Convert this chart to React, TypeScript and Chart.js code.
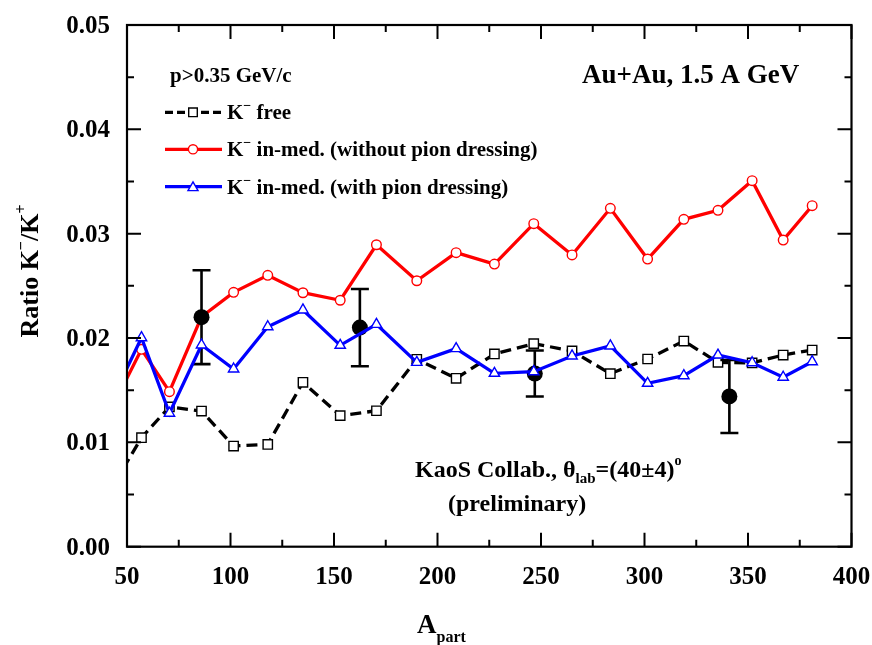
import { useEffect, useRef } from 'react';
import { Chart, registerables } from 'chart.js';

Chart.register(...registerables);

// Participant number bins shared by the three transport-model curves
const aPart = [44, 57, 70.5, 86, 101.5, 118, 135, 153, 170.5, 190, 209, 227.5, 246.5, 265, 283.5, 301.5, 319, 335.5, 352, 367, 381];

// K-/K+ ratio, free kaons
const ratioFree = [0.0061, 0.01045, 0.0134, 0.0130, 0.00965, 0.0098, 0.01576, 0.01256, 0.01303, 0.01796, 0.01614, 0.01847, 0.01946, 0.01876, 0.01658, 0.01799, 0.01971, 0.01767, 0.01761, 0.01837, 0.01885];
// K-/K+ ratio, in-medium without pion dressing
const ratioNoPion = [0.0138, 0.01892, 0.01486, 0.02204, 0.02438, 0.02601, 0.02434, 0.02362, 0.02894, 0.02549, 0.02818, 0.02709, 0.03096, 0.02796, 0.03243, 0.02757, 0.03138, 0.03224, 0.03508, 0.02939, 0.03268];
// K-/K+ ratio, in-medium with pion dressing
const ratioPion = [0.0146, 0.02003, 0.01279, 0.01933, 0.01703, 0.02108, 0.02269, 0.0193, 0.02131, 0.01767, 0.01898, 0.01662, 0.01677, 0.01828, 0.01924, 0.01566, 0.01639, 0.01837, 0.01763, 0.01624, 0.01773];

// KaoS preliminary data with symmetric errors
const kaosA = [86, 162.5, 247, 341];
const kaosRatio = [0.0220, 0.0210, 0.0166, 0.0144];
const kaosErr = [0.0045, 0.0037, 0.0022, 0.0035];

// Axis ticks
const xMajor = [50, 100, 150, 200, 250, 300, 350, 400];
const xMinor = [75, 125, 175, 225, 275, 325, 375];
const xLabels = ['50', '100', '150', '200', '250', '300', '350', '400'];
const yMajor = [0, 0.01, 0.02, 0.03, 0.04, 0.05];
const yMinor = [0.005, 0.015, 0.025, 0.035, 0.045];
const yLabels = ['0.00', '0.01', '0.02', '0.03', '0.04', '0.05'];

const FONT = '"Liberation Serif", "Times New Roman", serif';
const BLUE = '#0000ff';
const RED = '#ff0000';
const BLACK = '#000000';

type Seg = { t: string; size: number; dy?: number };

function drawRich(ctx: CanvasRenderingContext2D, segs: Seg[], x: number, y: number, align: 'left' | 'center' | 'right' = 'left') {
  let w = 0;
  for (const s of segs) {
    ctx.font = `bold ${s.size}px ${FONT}`;
    w += ctx.measureText(s.t).width;
  }
  let cx = align === 'center' ? x - w / 2 : align === 'right' ? x - w : x;
  ctx.textAlign = 'left';
  ctx.textBaseline = 'alphabetic';
  for (const s of segs) {
    ctx.font = `bold ${s.size}px ${FONT}`;
    ctx.fillText(s.t, cx, y + (s.dy || 0));
    cx += ctx.measureText(s.t).width;
  }
}

function drawMarker(ctx: CanvasRenderingContext2D, kind: string, x: number, y: number, color: string) {
  ctx.save();
  ctx.setLineDash([]);
  ctx.lineWidth = 1.4;
  ctx.strokeStyle = color;
  ctx.fillStyle = '#ffffff';
  ctx.beginPath();
  if (kind === 'rect') {
    ctx.rect(x - 4.3, y - 4.3, 8.6, 8.6);
  } else if (kind === 'circle') {
    ctx.arc(x, y, 4.6, 0, Math.PI * 2);
  } else {
    const r = 5.8;
    for (let i = 0; i < 3; i++) {
      const a = (i * 2 * Math.PI) / 3;
      const px = x + Math.sin(a) * r;
      const py = y - Math.cos(a) * r + 1;
      if (i === 0) ctx.moveTo(px, py);
      else ctx.lineTo(px, py);
    }
    ctx.closePath();
  }
  ctx.fill();
  ctx.stroke();
  ctx.restore();
}

const errorBars = {
  id: 'errorBars',
  beforeDatasetDraw(chart: any, args: any) {
    if (args.index !== 1) return;
    const { ctx, scales } = chart;
    ctx.save();
    ctx.strokeStyle = BLACK;
    ctx.lineWidth = 2.6;
    ctx.setLineDash([]);
    kaosA.forEach((a, i) => {
      const px = scales.x.getPixelForValue(a);
      const top = scales.y.getPixelForValue(kaosRatio[i] + kaosErr[i]);
      const bot = scales.y.getPixelForValue(kaosRatio[i] - kaosErr[i]);
      ctx.beginPath();
      ctx.moveTo(px, top);
      ctx.lineTo(px, bot);
      ctx.moveTo(px - 9, top);
      ctx.lineTo(px + 9, top);
      ctx.moveTo(px - 9, bot);
      ctx.lineTo(px + 9, bot);
      ctx.stroke();
    });
    ctx.restore();
  },
};

const frameAndText = {
  id: 'frameAndText',
  afterDraw(chart: any) {
    const { ctx, chartArea, scales } = chart;
    const { left, right, top, bottom } = chartArea;
    ctx.save();
    ctx.strokeStyle = BLACK;
    ctx.fillStyle = BLACK;
    ctx.setLineDash([]);

    // frame
    ctx.lineWidth = 2.2;
    ctx.strokeRect(left, top, right - left, bottom - top);

    // inward ticks on all four sides
    ctx.lineWidth = 2;
    const tick = (vals: number[], len: number) => {
      for (const v of vals) {
        const px = scales.x.getPixelForValue(v);
        ctx.beginPath();
        ctx.moveTo(px, bottom);
        ctx.lineTo(px, bottom - len);
        ctx.moveTo(px, top);
        ctx.lineTo(px, top + len);
        ctx.stroke();
      }
    };
    const ytick = (vals: number[], len: number) => {
      for (const v of vals) {
        const py = scales.y.getPixelForValue(v);
        ctx.beginPath();
        ctx.moveTo(left, py);
        ctx.lineTo(left + len, py);
        ctx.moveTo(right, py);
        ctx.lineTo(right - len, py);
        ctx.stroke();
      }
    };
    tick(xMajor, 14);
    tick(xMinor, 7);
    ytick(yMajor, 14);
    ytick(yMinor, 7);

    // tick labels
    ctx.font = `bold 25px ${FONT}`;
    ctx.textBaseline = 'alphabetic';
    ctx.textAlign = 'center';
    xMajor.forEach((v, i) => {
      ctx.fillText(xLabels[i], scales.x.getPixelForValue(v), bottom + 37);
    });
    ctx.textAlign = 'right';
    yMajor.forEach((v, i) => {
      ctx.fillText(yLabels[i], left - 17, scales.y.getPixelForValue(v) + 8);
    });

    // axis titles
    drawRich(ctx, [{ t: 'A', size: 27 }, { t: 'part', size: 16, dy: 9 }], 417, 633);
    ctx.save();
    ctx.translate(38, 271);
    ctx.rotate(-Math.PI / 2);
    drawRich(ctx, [
      { t: 'Ratio K', size: 26 },
      { t: '\u2212', size: 16, dy: -12 },
      { t: '/K', size: 26 },
      { t: '+', size: 16, dy: -12 },
    ], 0, 0, 'center');
    ctx.restore();

    // annotations
    drawRich(ctx, [{ t: 'p>0.35 GeV/c', size: 21 }], 170, 82);
    drawRich(ctx, [{ t: 'Au+Au, 1.5 A GeV', size: 27 }], 582, 83);
    drawRich(ctx, [
      { t: 'KaoS Collab., \u03b8', size: 24 },
      { t: 'lab', size: 15, dy: 6 },
      { t: '=(40\u00b14)', size: 24 },
      { t: 'o', size: 14, dy: -12 },
    ], 415, 477);
    drawRich(ctx, [{ t: '(preliminary)', size: 24 }], 448, 511);

    // legend
    const rows = [
      { y: 112.3, color: BLACK, dash: [8, 4], marker: 'rect', text: ' free' },
      { y: 149.3, color: RED, dash: [], marker: 'circle', text: ' in-med. (without pion dressing)' },
      { y: 186.7, color: BLUE, dash: [], marker: 'triangle', text: ' in-med. (with pion dressing)' },
    ];
    for (const r of rows) {
      ctx.save();
      ctx.strokeStyle = r.color;
      ctx.lineWidth = 3.3;
      ctx.setLineDash(r.dash);
      ctx.beginPath();
      ctx.moveTo(165, r.y);
      ctx.lineTo(222, r.y);
      ctx.stroke();
      ctx.restore();
      drawMarker(ctx, r.marker, 193, r.y, r.color);
      ctx.fillStyle = BLACK;
      drawRich(ctx, [
        { t: 'K', size: 21 },
        { t: '\u2212', size: 14, dy: -9 },
        { t: r.text, size: 21 },
      ], 227, r.y + 7);
    }
    ctx.restore();
  },
};

export default function App() {
  const canvasRef = useRef<HTMLCanvasElement | null>(null);

  useEffect(() => {
    const canvas = canvasRef.current;
    if (!canvas) return;
    const pts = (ys: number[]) => aPart.map((x, i) => ({ x, y: ys[i] }));
    const chart = new Chart(canvas, {
      type: 'line',
      data: {
        datasets: [
          {
            label: 'K\u2212 in-med. (with pion dressing)',
            data: pts(ratioPion),
            borderColor: BLUE,
            borderWidth: 3.3,
            pointStyle: 'triangle',
            pointRadius: 6,
            pointBorderWidth: 1.4,
            pointBorderColor: BLUE,
            pointBackgroundColor: '#ffffff',
            tension: 0,
            clip: 0,
          },
          {
            label: 'KaoS Collab. (preliminary)',
            data: kaosA.map((x, i) => ({ x, y: kaosRatio[i] })),
            showLine: false,
            pointStyle: 'circle',
            pointRadius: 8,
            pointBorderWidth: 0,
            pointBackgroundColor: BLACK,
            pointBorderColor: BLACK,
            clip: 0,
          },
          {
            label: 'K\u2212 in-med. (without pion dressing)',
            data: pts(ratioNoPion),
            borderColor: RED,
            borderWidth: 3.3,
            pointStyle: 'circle',
            pointRadius: 4.8,
            pointBorderWidth: 1.4,
            pointBorderColor: RED,
            pointBackgroundColor: '#ffffff',
            tension: 0,
            clip: 0,
          },
          {
            label: 'K\u2212 free',
            data: pts(ratioFree),
            borderColor: BLACK,
            borderWidth: 3.3,
            borderDash: [11, 6],
            pointStyle: 'rect',
            pointRadius: 6.6,
            pointBorderWidth: 1.4,
            pointBorderColor: BLACK,
            pointBackgroundColor: '#ffffff',
            tension: 0,
            clip: 0,
          },
        ],
      } as any,
      options: {
        animation: false,
        responsive: false,
        events: [],
        layout: { padding: { left: 127, right: 20.5, top: 25, bottom: 98.3 } },
        scales: {
          x: { type: 'linear', min: 50, max: 400, display: false },
          y: { type: 'linear', min: 0, max: 0.05, display: false },
        },
        plugins: {
          legend: { display: false },
          tooltip: { enabled: false },
        },
      },
      plugins: [errorBars, frameAndText],
    });
    return () => chart.destroy();
  }, []);

  return (
    <div style={{ position: 'fixed', left: 0, top: 0, width: 872, height: 645, background: '#ffffff' }}>
      <canvas ref={canvasRef} width={872} height={645} style={{ display: 'block' }} />
    </div>
  );
}
